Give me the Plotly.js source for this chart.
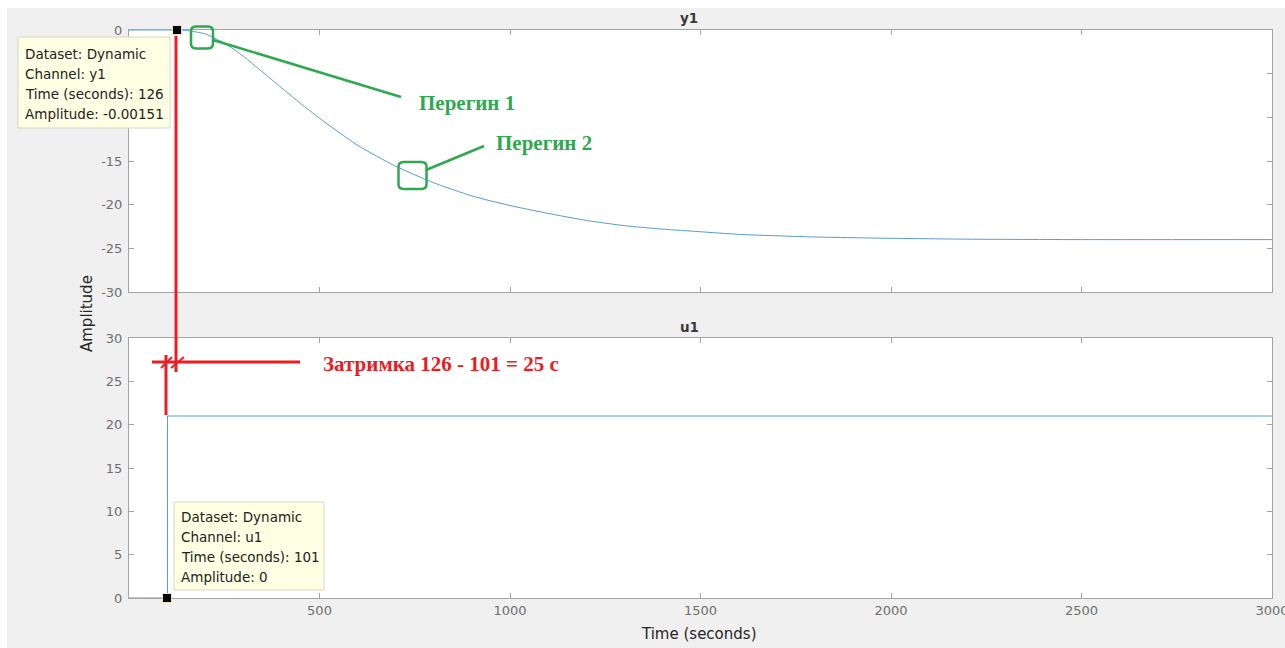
<!DOCTYPE html>
<html>
<head>
<meta charset="utf-8">
<script src="https://cdn.plot.ly/plotly-3.0.1.min.js"></script>
<style>
html,body{margin:0;padding:0;background:#ffffff;}
#chart{position:absolute;left:7px;top:8px;width:1278px;height:640px;}
</style>
</head>
<body>
<div id="chart"></div>
<script>
// ---- data ----
const timeY1 = [0, 126, 150, 200, 250, 300, 350, 400, 450, 500, 600, 700, 800, 900, 1000, 1100, 1200, 1300, 1400, 1500, 1600, 1800, 2000, 2200, 2500, 3000];
const y1 = [0, -0.00151, -0.05, -0.45, -1.5, -3.0, -4.8, -6.6, -8.4, -10.1, -13.2, -15.6, -17.5, -19.0, -20.1, -21.0, -21.8, -22.4, -22.8, -23.1, -23.4, -23.7, -23.85, -23.95, -24.0, -24.0];
const timeU1 = [0, 101, 101, 3000];
const u1 = [0, 0, 21, 21];
const tipY1 = {dataset: 'Dynamic', channel: 'y1', time: 126, amp: -0.00151};
const tipU1 = {dataset: 'Dynamic', channel: 'u1', time: 101, amp: 0};
const inflectionLabels = ['Перегин 1', 'Перегин 2'];
const delayLabel = 'Затримка 126 - 101 = 25 с';
const xTicks = [0, 500, 1000, 1500, 2000, 2500, 3000];
const xTickLabels = ['', '500', '1000', '1500', '2000', '2500', '3000'];
const yTicksTop = [0, -5, -10, -15, -20, -25, -30];
const yTicksBottom = [0, 5, 10, 15, 20, 25, 30];

// ---- layout helpers (page pixel -> paper) ----
const DIVX = 7, DIVY = 8, W = 1278, H = 640;
const ML = 122, MR = 13, MT = 22, MB = 50;
const PW = W - ML - MR, PH = H - MT - MB;
const px = x => (x - DIVX - ML) / PW;
const py = y => 1 - (y - DIVY - MT) / PH;

const lineBlue = '#5a9ad3';
const red = '#ec1c24';
const green = '#2fa84f';
const tickFont = {family: 'DejaVu Sans', size: 13, color: '#6e6e6e'};
const tipFont = {family: 'DejaVu Sans', size: 13.5, color: '#222222'};

const traces = [
  {x: timeY1, y: y1, xaxis: 'x', yaxis: 'y', mode: 'lines', line: {color: lineBlue, width: 1, shape: 'spline', smoothing: 0.6}, hoverinfo: 'skip'},
  {x: timeU1, y: u1, xaxis: 'x2', yaxis: 'y2', mode: 'lines', line: {color: lineBlue, width: 1}, hoverinfo: 'skip'}
];

const axisCommon = {
  showgrid: false, zeroline: false, showline: true, linecolor: '#a3a3a3', linewidth: 1,
  ticks: 'inside', ticklen: 5, tickcolor: '#a3a3a3', tickwidth: 1, mirror: 'allticks',
  tickfont: tickFont, ticklabeloverflow: 'allow'
};

const shapes = [];
const annotations = [];

// datatip boxes
function datatip(x0, y0, x1, y1p, tip, tx, tys, xr, yr) {
  shapes.push({type: 'rect', xref: 'paper', yref: 'paper', x0: px(x0), x1: px(x1), y0: py(y0), y1: py(y1p),
    fillcolor: '#ffffe3', line: {color: '#d8d8c4', width: 1}, layer: 'above'});
  const lines = ['Dataset: ' + tip.dataset, 'Channel: ' + tip.channel, 'Time (seconds): ' + tip.time, 'Amplitude: ' + tip.amp];
  lines.forEach((t, i) => annotations.push({xref: 'paper', yref: 'paper', x: px(tx), y: py(tys[i]),
    xanchor: 'left', yanchor: 'middle', text: t, showarrow: false, font: tipFont}));
  // black datatip marker at the data point
  annotations.push({xref: xr, yref: yr, x: tip.time, y: tip.amp, xanchor: 'center', yanchor: 'middle',
    text: ' ', showarrow: false, width: 8, height: 8, bgcolor: '#000000', bordercolor: '#ece6b8', borderwidth: 1, borderpad: 0,
    font: {size: 4}});
}
datatip(18, 37, 170, 128, tipY1, 23, [54, 74, 94, 114], 'x', 'y');
datatip(174, 502, 324, 590, tipU1, 179, [517, 537, 557, 577], 'x2', 'y2');

// red delay lines
function seg(x0, y0, x1, y1p, color, width) {
  shapes.push({type: 'line', xref: 'paper', yref: 'paper', x0: px(x0), y0: py(y0), x1: px(x1), y1: py(y1p),
    line: {color: color, width: width}, layer: 'above'});
}
seg(176, 36, 176, 372, red, 3);
seg(166, 355, 166, 415, red, 3);
seg(152, 362, 300, 362, red, 3);
seg(161, 368, 172, 357, red, 2);
seg(171, 368, 184, 357, red, 2);
annotations.push({xref: 'paper', yref: 'paper', x: px(321), y: py(364), xanchor: 'left', yanchor: 'middle',
  text: '<b>' + delayLabel + '</b>', showarrow: false, font: {family: 'Liberation Serif', size: 21, color: red}});

// green inflection markers
const boxPath = (hw, hh) => {
  const r = 5;
  return `M ${-hw + r},${-hh} L ${hw - r},${-hh} Q ${hw},${-hh} ${hw},${-hh + r} L ${hw},${hh - r} Q ${hw},${hh} ${hw - r},${hh} ` +
         `L ${-hw + r},${hh} Q ${-hw},${hh} ${-hw},${hh - r} L ${-hw},${-hh + r} Q ${-hw},${-hh} ${-hw + r},${-hh} Z`;
};
function greenBox(cx, cy, hw, hh) {
  shapes.push({type: 'path', xref: 'paper', yref: 'paper', xsizemode: 'pixel', ysizemode: 'pixel',
    xanchor: px(cx), yanchor: py(cy), path: boxPath(hw, hh),
    line: {color: green, width: 2.5}, fillcolor: 'rgba(0,0,0,0)', layer: 'above'});
}
greenBox(202, 37.5, 11, 11);
greenBox(412.5, 175.5, 14, 13.5);
seg(213, 40, 401, 97, green, 2.5);
seg(426, 170, 484, 146, green, 2.5);
annotations.push({xref: 'paper', yref: 'paper', x: px(417), y: py(103), xanchor: 'left', yanchor: 'middle',
  text: '<b>' + inflectionLabels[0] + '</b>', showarrow: false, font: {family: 'Liberation Serif', size: 21, color: green}});
annotations.push({xref: 'paper', yref: 'paper', x: px(494), y: py(143), xanchor: 'left', yanchor: 'middle',
  text: '<b>' + inflectionLabels[1] + '</b>', showarrow: false, font: {family: 'Liberation Serif', size: 21, color: green}});

// titles
annotations.push({xref: 'paper', yref: 'paper', x: px(689), y: py(18), xanchor: 'center', yanchor: 'middle',
  text: '<b>y1</b>', showarrow: false, font: {family: 'DejaVu Sans', size: 13.5, color: '#3a3a3a'}});
annotations.push({xref: 'paper', yref: 'paper', x: px(689), y: py(327), xanchor: 'center', yanchor: 'middle',
  text: '<b>u1</b>', showarrow: false, font: {family: 'DejaVu Sans', size: 13.5, color: '#3a3a3a'}});
annotations.push({xref: 'paper', yref: 'paper', x: px(87), y: py(314), xanchor: 'center', yanchor: 'middle',
  text: 'Amplitude', textangle: -90, showarrow: false, font: {family: 'DejaVu Sans', size: 15, color: '#262626'}});
annotations.push({xref: 'paper', yref: 'paper', x: px(699), y: py(634), xanchor: 'center', yanchor: 'middle',
  text: 'Time (seconds)', showarrow: false, font: {family: 'DejaVu Sans', size: 15, color: '#262626'}});

const layout = {
  width: W, height: H,
  margin: {l: ML, r: MR, t: MT, b: MB, pad: 0},
  paper_bgcolor: '#f0f0f0', plot_bgcolor: '#ffffff',
  showlegend: false,
  xaxis: Object.assign({}, axisCommon, {domain: [0, 1], range: [0, 3000], anchor: 'y', tickvals: xTicks, showticklabels: false, matches: 'x2'}),
  yaxis: Object.assign({}, axisCommon, {domain: [(H - MB - (292 - DIVY)) / PH, 1], range: [-30, 0], anchor: 'x', tickvals: yTicksTop, ticktext: yTicksTop.map(String), ticklabelstandoff: 3}),
  xaxis2: Object.assign({}, axisCommon, {domain: [0, 1], range: [0, 3000], anchor: 'y2', tickvals: xTicks, ticktext: xTickLabels}),
  yaxis2: Object.assign({}, axisCommon, {domain: [0, (H - MB - (338 - DIVY)) / PH], range: [0, 30], anchor: 'x2', tickvals: yTicksBottom, ticktext: yTicksBottom.map(String), ticklabelstandoff: 3}),
  shapes: shapes,
  annotations: annotations
};

Plotly.newPlot('chart', traces, layout, {displayModeBar: false, staticPlot: true});
</script>
</body>
</html>
